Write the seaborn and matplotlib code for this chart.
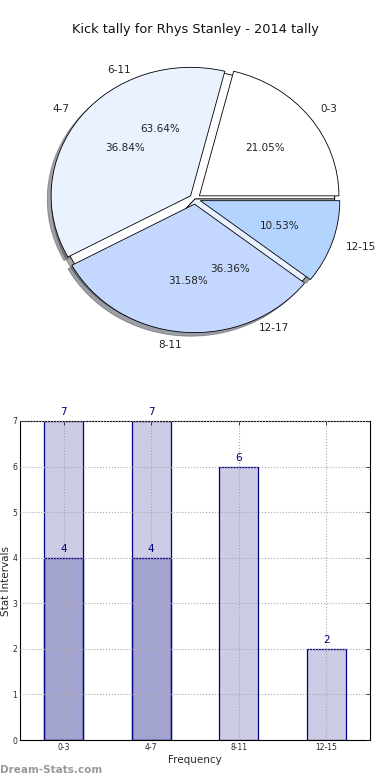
import matplotlib
matplotlib.use("Agg")
import matplotlib.pyplot as plt
import seaborn as sns
import pandas as pd

# ─── Data ─────────────────────────────────────────────────────────────────────
TITLE = "Kick tally for Rhys Stanley - 2014 tally"

pie_labels = ["0-3", "4-7", "8-11", "12-15"]
pie_counts = [4, 7, 6, 2]
pie_colors = ["#FFFFFF", "#EAF1FF", "#C4D8FF", "#B3D4FF"]

pie2_labels = ["6-11", "12-17"]
pie2_counts = [7, 4]
pie2_colors = ["#FFFFFF", "#EAF1FF"]

bar_cats = ["0-3", "4-7", "8-11", "12-15"]
bar_totals = [7, 7, 6, 2]
bar_inner_cats = ["0-3", "4-7"]
bar_inner = [4, 4]

sns.set_style("white")
plt.rcParams["font.family"] = ["DejaVu Sans"]

fig = plt.figure(figsize=(3.9, 7.8), dpi=100)
fig.text(0.5, 1 - 30 / 780, TITLE, ha="center", va="center", fontsize=9.3, color="#111111")

# ─── Pie (slightly elliptical, like the original) ────────────────────────────
rx, ry, cy = 139.5, 128.5, 199
W, H = 2.8 * rx, 2.8 * ry
ax_pie = fig.add_axes([(195 - W / 2) / 390, (780 - cy - H / 2) / 780, W / 390, H / 780])
txt = dict(fontsize=7.5, color="#222222")
# underlying pie (not exploded)
ax_pie.pie(pie2_counts, labels=pie2_labels, colors=pie2_colors, autopct="%.2f%%",
           shadow=True, labeldistance=1.1, pctdistance=0.6, textprops=txt,
           wedgeprops=dict(edgecolor="black", linewidth=0.6))
# top pie (exploded)
ax_pie.pie(pie_counts, labels=pie_labels, colors=pie_colors, autopct="%.2f%%",
           explode=[0.04] * len(pie_counts), shadow=True, labeldistance=1.1,
           pctdistance=0.6, textprops=txt,
           wedgeprops=dict(edgecolor="black", linewidth=0.6))
ax_pie.set_aspect("auto")
ax_pie.set_xlim(-1.4, 1.4)
ax_pie.set_ylim(-1.4, 1.4)
ax_pie.axis("off")

# ─── Bars ─────────────────────────────────────────────────────────────────────
ax = fig.add_axes([20 / 390, 40 / 780, 350 / 390, 319 / 780])
df_tot = pd.DataFrame({"cat": bar_cats, "val": bar_totals})
df_in = pd.DataFrame({"cat": bar_inner_cats, "val": bar_inner})
sns.barplot(data=df_tot, x="cat", y="val", order=bar_cats, width=0.45, ax=ax)
sns.barplot(data=df_in, x="cat", y="val", order=bar_cats, width=0.45, ax=ax)
for p in ax.patches:
    p.set_facecolor((0, 0, 0.5, 0.2))
    p.set_edgecolor("#000080")
    p.set_linewidth(0.9)

for i, v in enumerate(bar_totals):
    ax.text(i, v + 0.08, str(v), ha="center", va="bottom", fontsize=7.5, color="#000080")
for c, v in zip(bar_inner_cats, bar_inner):
    ax.text(bar_cats.index(c), v + 0.08, str(v), ha="center", va="bottom",
            fontsize=7.5, color="#000080")

ax.set_xlim(-0.5, len(bar_cats) - 0.5)
ax.set_ylim(0, 7)
ax.set_yticks(range(0, 8))
ax.set_xlabel("Frequency", fontsize=7.5, labelpad=2)
ax.set_ylabel("Stat Intervals", fontsize=7.5, labelpad=1)
ax.tick_params(axis="both", labelsize=5.5, direction="in", length=3, width=0.6,
               top=True, right=True, pad=2)
ax.grid(True, linestyle=":", color="#aaaaaa", linewidth=0.8)
ax.set_axisbelow(False)
for s in ax.spines.values():
    s.set_color("black")
    s.set_linewidth(0.8)

fig.text(0.0, 1 - 770 / 780, "Dream-Stats.com", ha="left", va="center",
         fontsize=7.5, color="#999999", fontweight="bold")

plt.savefig("out.png", dpi=100)
plt.close()
